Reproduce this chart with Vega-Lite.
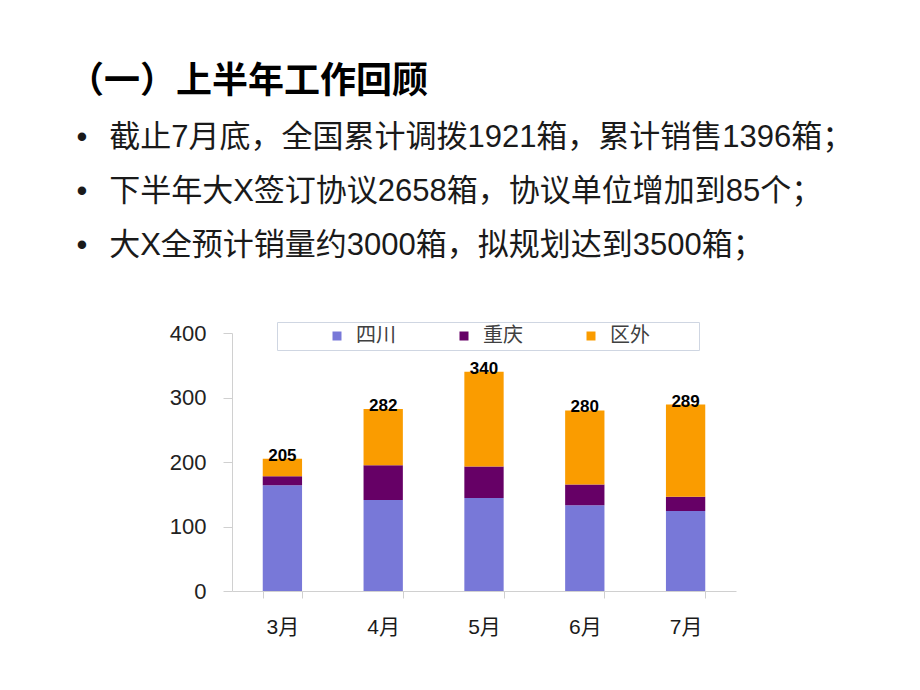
{
  "$schema": "https://vega.github.io/schema/vega-lite/v6.json",
  "width": 504,
  "height": 258,
  "autosize": {"type": "none"},
  "padding": {"left": 232, "top": 333, "right": 184, "bottom": 99},
  "background": "white",
  "config": {"view": {"stroke": null}},
  "title": {
    "text": "（一）上半年工作回顾",
    "subtitle": [
      "\u200b\u00a0•\u2002\u2009截止7月底，全国累计调拨1921箱，累计销售1396箱；",
      "\u200b\u00a0•\u2002\u2009下半年大X签订协议2658箱，协议单位增加到85个；",
      "\u200b\u00a0•\u2002\u2009大X全预计销量约3000箱，拟规划达到3500箱；"
    ],
    "anchor": "start",
    "frame": "group",
    "dx": -164,
    "offset": 60,
    "font": "Noto Sans CJK SC",
    "fontSize": 36,
    "fontWeight": "bold",
    "color": "#000000",
    "subtitleFont": "Liberation Sans, Noto Sans CJK SC",
    "subtitleFontSize": 31,
    "subtitleColor": "#1a1a1a",
    "subtitleLineHeight": 54,
    "subtitlePadding": 22
  },
  "data": {
    "values": [
      {"month": "3月", "region": "四川", "value": 164},
      {"month": "3月", "region": "重庆", "value": 14},
      {"month": "3月", "region": "区外", "value": 27},
      {"month": "4月", "region": "四川", "value": 141},
      {"month": "4月", "region": "重庆", "value": 54},
      {"month": "4月", "region": "区外", "value": 87},
      {"month": "5月", "region": "四川", "value": 144},
      {"month": "5月", "region": "重庆", "value": 49},
      {"month": "5月", "region": "区外", "value": 147},
      {"month": "6月", "region": "四川", "value": 133},
      {"month": "6月", "region": "重庆", "value": 32},
      {"month": "6月", "region": "区外", "value": 115},
      {"month": "7月", "region": "四川", "value": 124},
      {"month": "7月", "region": "重庆", "value": 22},
      {"month": "7月", "region": "区外", "value": 143}
    ]
  },
  "encoding": {
    "x": {
      "field": "month",
      "type": "nominal",
      "sort": ["3月", "4月", "5月", "6月", "7月"],
      "scale": {"paddingInner": 0.61, "paddingOuter": 0.305},
      "axis": {
        "title": null,
        "labelAngle": 0,
        "labelFont": "Liberation Sans, Noto Sans CJK SC",
        "labelFontSize": 21,
        "labelColor": "#1a1a1a",
        "labelPadding": 18,
        "tickBand": "extent",
        "tickSize": 7,
        "tickColor": "#d0d0d0",
        "domainColor": "#d0d0d0",
        "grid": false
      }
    }
  },
  "layer": [
    {
      "transform": [
        {"calculate": "indexof(['四川','重庆','区外'], datum.region)", "as": "ord"}
      ],
      "mark": {"type": "bar"},
      "encoding": {
        "y": {
          "field": "value",
          "type": "quantitative",
          "stack": "zero",
          "scale": {"domain": [0, 400], "nice": false},
          "axis": {
            "title": null,
            "values": [0, 100, 200, 300, 400],
            "labelFont": "Liberation Sans",
            "labelFontSize": 22,
            "labelColor": "#222222",
            "labelPadding": 17,
            "tickSize": 9,
            "tickColor": "#d0d0d0",
            "domainColor": "#d0d0d0",
            "grid": false
          }
        },
        "color": {
          "field": "region",
          "type": "nominal",
          "scale": {"domain": ["四川", "重庆", "区外"], "range": ["#7878D8", "#660066", "#FA9C00"]},
          "legend": {
            "title": "\u3000\u3000",
            "titleOrient": "left",
            "titleFont": "Noto Sans CJK SC",
            "titleFontSize": 20,
            "titlePadding": 46,
            "orient": "none",
            "legendX": 45,
            "legendY": -11,
            "direction": "horizontal",
            "symbolType": "square",
            "symbolSize": 81,
            "symbolStrokeWidth": 0,
            "labelFont": "Noto Sans CJK SC",
            "labelFontSize": 20,
            "labelColor": "#404040",
            "labelOffset": 9,
            "columnPadding": 58,
            "padding": 4,
            "strokeColor": "#cfd6e2",
            "labelExpr": "datum.label == '区外' ? datum.label + '\u2800\u2800\u2800' : datum.label"
          }
        },
        "order": {"field": "ord", "type": "quantitative"}
      }
    },
    {
      "transform": [
        {"aggregate": [{"op": "sum", "field": "value", "as": "total"}], "groupby": ["month"]}
      ],
      "mark": {"type": "text", "font": "Liberation Sans", "fontSize": 17, "fontWeight": "bold", "color": "#000000", "baseline": "alphabetic", "dy": 2},
      "encoding": {
        "y": {"field": "total", "type": "quantitative"},
        "text": {"field": "total", "type": "quantitative"}
      }
    }
  ]
}
